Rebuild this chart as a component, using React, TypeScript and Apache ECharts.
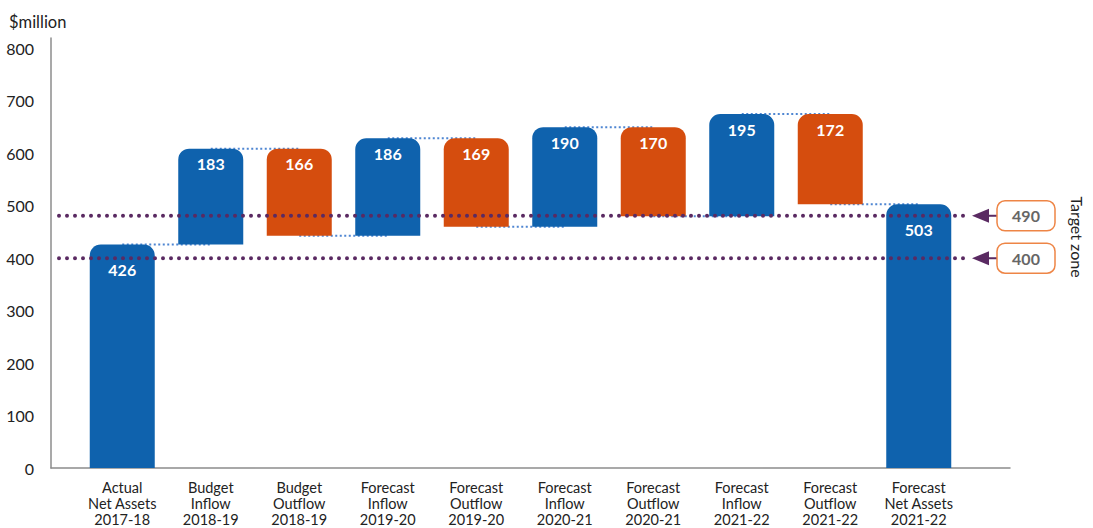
import React, { useEffect, useRef } from "react";
import * as echarts from "echarts";

const categories = [
  "Actual\nNet Assets\n2017-18",
  "Budget\nInflow\n2018-19",
  "Budget\nOutflow\n2018-19",
  "Forecast\nInflow\n2019-20",
  "Forecast\nOutflow\n2019-20",
  "Forecast\nInflow\n2020-21",
  "Forecast\nOutflow\n2020-21",
  "Forecast\nInflow\n2021-22",
  "Forecast\nOutflow\n2021-22",
  "Forecast\nNet Assets\n2021-22",
];
const kinds = ["total", "inflow", "outflow", "inflow", "outflow", "inflow", "outflow", "inflow", "outflow", "total"];
const amounts = [426, 183, 166, 186, 169, 190, 170, 195, 172, 503];
const targetLevels = [481, 400];
const targetLabels = ["490", "400"];

const BLUE = "#0F62AD";
const ORANGE = "#D54D0E";
const PURPLE = "#5A2A62";
const FONT = "Lato, 'Open Sans', sans-serif";

const bases: number[] = [];
const heights: number[] = [];
const levels: number[] = [];
let running = 0;
amounts.forEach((a, i) => {
  const k = kinds[i];
  if (k === "total") {
    bases.push(0);
    heights.push(a);
    running = a;
  } else if (k === "inflow") {
    bases.push(running);
    heights.push(a);
    running += a;
  } else {
    running -= a;
    bases.push(running);
    heights.push(a);
  }
  levels.push(running);
});

export default function App() {
  const ref = useRef<HTMLDivElement>(null);
  useEffect(() => {
    document.body.style.margin = "0";
    const chart = echarts.init(ref.current!, undefined, { renderer: "svg" });
    const option: any = {
      animation: false,
      textStyle: { fontFamily: FONT },
      title: {
        text: "$million",
        left: 4,
        top: 8,
        textStyle: { fontSize: 16.5, fontWeight: "normal", color: "#222", fontFamily: FONT },
      },
      grid: [
        { left: 51, right: 83, top: 38, bottom: 60, outerBoundsMode: "none" },
        { left: 78, right: 130, top: 38, bottom: 60, outerBoundsMode: "none" },
      ],
      xAxis: [
        {
          type: "value",
          gridIndex: 0,
          min: 0,
          max: 1,
          axisLine: { show: true, lineStyle: { color: "#8c8c8c", width: 1.5 } },
          axisTick: { show: false },
          axisLabel: { show: false },
          splitLine: { show: false },
        },
        {
          type: "category",
          gridIndex: 1,
          data: categories,
          axisLine: { show: false },
          axisTick: { show: false },
          axisLabel: {
            interval: 0,
            margin: 11,
            fontSize: 14.5,
            lineHeight: 16,
            color: "#222",
            fontFamily: FONT,
          },
        },
      ],
      yAxis: [
        {
          type: "value",
          gridIndex: 0,
          min: 0,
          max: 820,
          interval: 100,
          axisLine: { show: true, lineStyle: { color: "#8c8c8c", width: 1.5 } },
          axisTick: { show: false },
          splitLine: { show: false },
          axisLabel: {
            margin: 17,
            fontSize: 16,
            color: "#222",
            fontFamily: FONT,
            formatter: (v: number) => (v % 100 === 0 ? String(v) : ""),
          },
        },
        {
          type: "value",
          gridIndex: 1,
          min: 0,
          max: 820,
          interval: 100,
          show: false,
          splitLine: { show: false },
        },
      ],
      series: [
        {
          type: "custom",
          xAxisIndex: 1,
          yAxisIndex: 1,
          z: 1,
          silent: true,
          data: levels.slice(0, -1).map((v, i) => [i, v]),
          renderItem: (params: any, api: any) => {
            const i = api.value(0);
            const v = api.value(1);
            const p1 = api.coord([i, v]);
            const p2 = api.coord([i + 1, v]);
            return {
              type: "line",
              shape: { x1: p1[0], y1: p1[1], x2: p2[0], y2: p2[1] },
              style: { stroke: "#4F86D2", lineWidth: 2, lineDash: [2, 2.5] },
            };
          },
        },
        {
          type: "bar",
          xAxisIndex: 1,
          yAxisIndex: 1,
          stack: "w",
          barWidth: 65,
          z: 2,
          silent: true,
          itemStyle: { color: "transparent" },
          data: bases,
        },
        {
          type: "bar",
          xAxisIndex: 1,
          yAxisIndex: 1,
          stack: "w",
          barWidth: 65,
          z: 3,
          data: heights.map((h, i) => ({
            value: h,
            itemStyle: {
              color: kinds[i] === "outflow" ? ORANGE : BLUE,
              borderRadius: [11, 11, 0, 0],
            },
            label: {
              show: true,
              position: "insideTop",
              distance: kinds[i] === "total" ? 17 : 7,
              color: "#fff",
              fontWeight: "bold",
              fontSize: 16,
              fontFamily: FONT,
              formatter: String(amounts[i]),
            },
          })),
        },
        {
          type: "custom",
          xAxisIndex: 0,
          yAxisIndex: 0,
          z: 10,
          silent: true,
          clip: false,
          data: targetLevels.map((v) => [0, v]),
          renderItem: (params: any, api: any) => {
            const cs = params.coordSys;
            const y = api.coord([0, api.value(1)])[1];
            const right = cs.x + cs.width;
            const boxX = right - 13;
            const tip = boxX - 25;
            const base = boxX - 8;
            const children: any[] = [
              {
                type: "line",
                shape: { x1: cs.x + 8, y1: y, x2: right - 44, y2: y },
                style: { stroke: PURPLE, lineWidth: 4, lineDash: [0, 8], lineCap: "round" },
              },
              {
                type: "polygon",
                shape: { points: [[tip, y], [base, y - 7], [base, y + 7]] },
                style: { fill: PURPLE },
              },
              {
                type: "line",
                shape: { x1: base, y1: y, x2: boxX, y2: y },
                style: { stroke: PURPLE, lineWidth: 2 },
              },
              {
                type: "rect",
                shape: { x: boxX, y: y - 15, width: 58, height: 30, r: 8 },
                style: { fill: "#fff", stroke: "#EE8546", lineWidth: 1.5 },
              },
              {
                type: "text",
                x: boxX + 29,
                y: y,
                style: {
                  text: targetLabels[params.dataIndex],
                  fill: "#666",
                  font: `bold 16px ${FONT}`,
                  align: "center",
                  verticalAlign: "middle",
                },
              },
            ];
            if (params.dataIndex === 0) {
              const y2 = api.coord([0, targetLevels[1]])[1];
              children.push({
                type: "text",
                x: right + 67,
                y: (y + y2) / 2,
                rotation: -Math.PI / 2,
                style: {
                  text: "Target zone",
                  fill: "#222",
                  font: `16px ${FONT}`,
                  align: "center",
                  verticalAlign: "middle",
                },
              });
            }
            return { type: "group", children };
          },
        },
      ],
    };
    chart.setOption(option);
    return () => chart.dispose();
  }, []);
  return <div ref={ref} style={{ width: 1093, height: 528 }} />;
}
